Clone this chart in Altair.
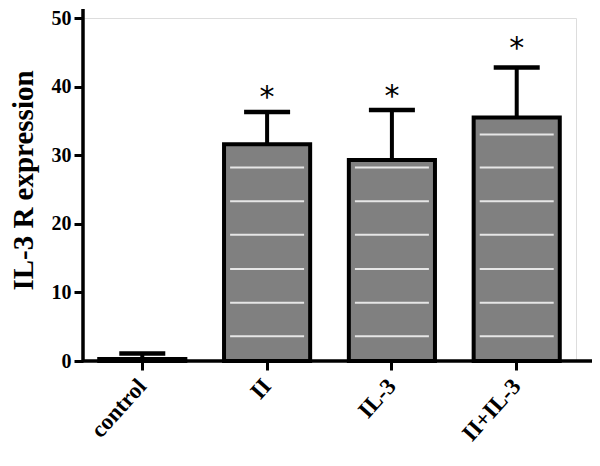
import altair as alt
import pandas as pd

groups = ["control", "II", "IL-3", "II+IL-3"]
means = [0.3, 31.6, 29.3, 35.5]
errors = [0.8, 4.7, 7.3, 7.3]
stars = ["", "*", "*", "*"]
star_y = [0, 39.2, 39.3, 46.4]
stripes = [3.6, 8.5, 13.4, 18.4, 23.3, 28.2, 33.0]

df = pd.DataFrame({
    "group": groups,
    "mean": means,
    "upper": [m + e for m, e in zip(means, errors)],
    "star": stars,
    "star_y": star_y,
})

rows = []
for g, m in zip(groups, means):
    for s in stripes:
        if s < m - 0.8:
            rows.append({"group": g, "s": s})
stripe_df = pd.DataFrame(rows)

FONT = "Liberation Serif"

x = alt.X("group:N", sort=groups, title=None,
          scale=alt.Scale(paddingInner=0.31, paddingOuter=0.13),
          axis=alt.Axis(labelAngle=-48, labelFontSize=23, labelFont=FONT,
                        labelFontWeight="bold", labelColor="black",
                        tickColor="black", tickWidth=3, tickSize=9,
                        domain=False, labelPadding=12))
y = alt.Y("mean:Q", title="IL-3 R expression",
          scale=alt.Scale(domain=[0, 50], nice=False),
          axis=alt.Axis(values=[0, 10, 20, 30, 40, 50], grid=False,
                        labelFontSize=20, labelFont=FONT, labelFontWeight="bold",
                        labelColor="black", tickColor="black", tickWidth=3,
                        tickSize=9, domain=False,
                        titleFont=FONT, titleFontSize=29, titleFontWeight="bold",
                        titleColor="black", titleX=-45, titleY=162, labelPadding=3))

base = alt.Chart(df)

bars = base.mark_bar(color="#808080", stroke="black", strokeWidth=4).encode(x=x, y=y)

stripe = alt.Chart(stripe_df).mark_tick(color="white", thickness=2, size=74, opacity=0.8).encode(
    x=alt.X("group:N", sort=groups), y=alt.Y("s:Q"))

whisk = base.mark_rule(color="black", strokeWidth=4).encode(
    x=alt.X("group:N", sort=groups), y=alt.Y("mean:Q"), y2="upper:Q")
cap = base.mark_tick(color="black", thickness=4.5, size=46, opacity=1).encode(
    x=alt.X("group:N", sort=groups), y=alt.Y("upper:Q"))

star = base.mark_text(fontSize=30, font="DejaVu Sans", baseline="middle", dy=6, color="black").encode(
    x=alt.X("group:N", sort=groups), y=alt.Y("star_y:Q"), text="star:N")

xaxis = alt.Chart(pd.DataFrame({"v": [0]})).mark_rule(color="black", strokeWidth=3.5).encode(
    y=alt.Y("v:Q"), x=alt.value(0), x2=alt.value(515))

yaxis = alt.Chart(pd.DataFrame({"v": [0]})).mark_rule(color="black", strokeWidth=3.5).encode(
    x=alt.value(0), y=alt.value(-9), y2=alt.value(343))

chart = alt.layer(bars, stripe, whisk, cap, xaxis, yaxis, star).properties(
    width=493, height=343,
    autosize=alt.AutoSizeParams(type="none"),
    padding={"left": 75, "top": 10, "right": 16, "bottom": 97},
).configure_view(stroke=None).configure(background="white")

chart.save("out.html", embed_options={"renderer": "svg", "actions": False})
